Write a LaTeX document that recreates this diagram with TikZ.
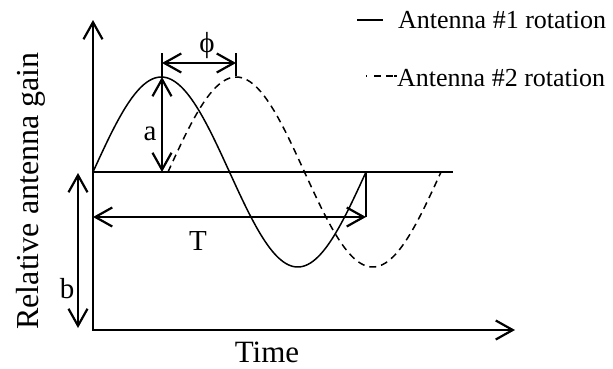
\documentclass[tikz,border=0pt]{standalone}
\usepackage{fontspec}
\setmainfont{Liberation Serif}
\usetikzlibrary{arrows.meta}
\begin{document}
\begin{tikzpicture}[x=1pt,y=-1pt,
  barb/.style={line width=2.2pt,arrows={Straight Barb[length=17pt,width=19pt,line width=2.2pt]-Straight Barb[length=17pt,width=19pt,line width=2.2pt]}},
  curve/.style={line width=1.5pt},
  lbl/.style={inner sep=0pt,font=\fontsize{29}{32}\selectfont}]
\useasboundingbox (0,0) rectangle (613,368);
% named coordinates
\coordinate (O) at (93,330);
\coordinate (Ytop) at (93,20);
\coordinate (Xend) at (515,330);
\coordinate (B0) at (93,172);
\coordinate (B1) at (453,172);
\coordinate (Tl) at (93,217);
\coordinate (Tr) at (366,217);
\coordinate (Tv) at (366,172);
\coordinate (bt) at (78,173);
\coordinate (bb) at (78,328);
\coordinate (at) at (162,77);
\coordinate (ab) at (162,172);
\coordinate (pl) at (162,63);
\coordinate (pr) at (236,63);
% axes
\draw[line width=2.2pt,arrows={Straight Barb[length=17pt,width=19pt,line width=2.2pt]-Straight Barb[length=17pt,width=19pt,line width=2.2pt]}] (Ytop) -- (O) -- (Xend);
% baseline
\draw[curve] (B0) -- (B1);
% sine curves
\draw[curve] plot[domain=0:360,samples=120] ({93+\x*0.758333},{172-95*sin(\x)});
\draw[curve,dash pattern=on 7pt off 5pt] plot[domain=0:360,samples=120] ({168+\x*0.758333},{172-95*sin(\x)});
% period
\draw[curve] (Tv) -- (Tr);
\draw[barb] (Tl) -- (Tr);
\node[lbl,anchor=base] (T) at (198,250) {T};
% b
\draw[barb] (bt) -- (bb);
\node[lbl,anchor=base] (b) at (67,298) {b};
% a
\draw[barb] (at) -- (ab);
\node[lbl,anchor=base] (a) at (150,140) {a};
% phi
\draw[curve] (162,53) -- (at);
\draw[curve] (236,53) -- (236,76);
\draw[barb] (pl) -- (pr);
\node[lbl] (phi) at (207,46) {ϕ};
% axis labels
\node[inner sep=0pt,font=\fontsize{32}{36}\selectfont,rotate=90,anchor=base] (ylab) at (38,191) {Relative antenna gain};
\node[inner sep=0pt,font=\fontsize{31}{34}\selectfont,anchor=base] (xlab) at (267,362) {Time};
% legend
\coordinate (l1a) at (357,20);
\coordinate (l1b) at (383,20);
\draw[curve] (l1a) -- (l1b);
\node[inner sep=0pt,font=\fontsize{26}{30}\selectfont,anchor=base west] (leg1) at (398,28) {Antenna \#1 rotation};
\coordinate (l2a) at (366,76);
\coordinate (l2b) at (397,76);
\draw[line width=1.2pt,dash pattern=on 1pt off 7pt on 7pt off 5pt on 7pt] (l2a) -- (l2b);
\node[inner sep=0pt,font=\fontsize{26}{30}\selectfont,anchor=base west] (leg2) at (397,86) {Antenna \#2 rotation};
\end{tikzpicture}
\end{document}
